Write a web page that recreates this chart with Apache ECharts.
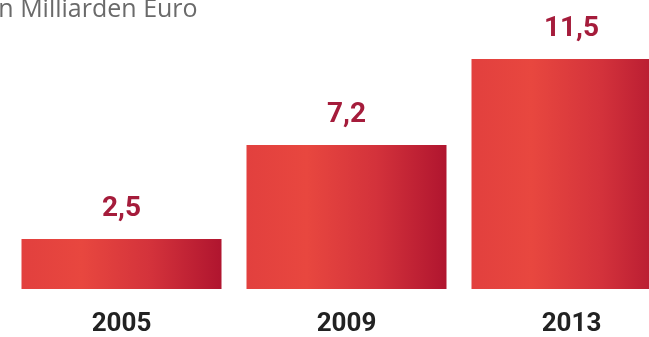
<!DOCTYPE html>
<html>
<head>
<meta charset="utf-8">
<script src="https://cdn.jsdelivr.net/npm/echarts@6/dist/echarts.min.js"></script>
<style>
  html, body { margin: 0; padding: 0; background: #fff; overflow: hidden; }
  /* rechter Balken ist im Original angeschnitten -> Zeichenfläche breiter als Fenster */
  #chart { width: 684px; height: 337px; }
</style>
</head>
<body>
<div id="chart"></div>
<script>
// Daten
const years = ['2005', '2009', '2013'];
const values = [2.5, 7.2, 11.5];
const unitLabel = 'in Milliarden Euro';

const chart = echarts.init(document.getElementById('chart'));

// Balkenverlauf von hellrot nach dunkelrot
const barGradient = new echarts.graphic.LinearGradient(0, 0, 1, 0, [
  { offset: 0, color: '#e2403e' },
  { offset: 0.3, color: '#e8473f' },
  { offset: 0.65, color: '#d3323b' },
  { offset: 1, color: '#b0152f' }
]);

const option = {
  backgroundColor: '#fff',
  animation: false,
  title: {
    text: unitLabel,
    left: -13,
    top: -8,
    textStyle: {
      fontFamily: 'Open Sans',
      fontWeight: 'normal',
      fontSize: 25,
      color: '#6a6a6a'
    }
  },
  grid: {
    left: 9,
    right: 0,
    top: 9,
    bottom: 48,
    containLabel: false
  },
  xAxis: {
    type: 'category',
    data: years,
    axisLine: { show: false },
    axisTick: { show: false },
    axisLabel: {
      margin: 22,
      fontFamily: 'Roboto',
      fontWeight: 'bold',
      fontSize: 26,
      color: '#222'
    }
  },
  yAxis: {
    type: 'value',
    min: 0,
    max: 14,
    show: false,
    splitLine: { show: false }
  },
  series: [{
    type: 'bar',
    data: values,
    barWidth: 200,
    itemStyle: { color: barGradient },
    label: {
      show: true,
      position: 'top',
      distance: 16,
      formatter: p => String(p.value).replace('.', ','),
      fontFamily: 'Roboto',
      fontWeight: 'bold',
      fontSize: 28,
      color: '#a51c3b'
    }
  }]
};

chart.setOption(option);
</script>
</body>
</html>
